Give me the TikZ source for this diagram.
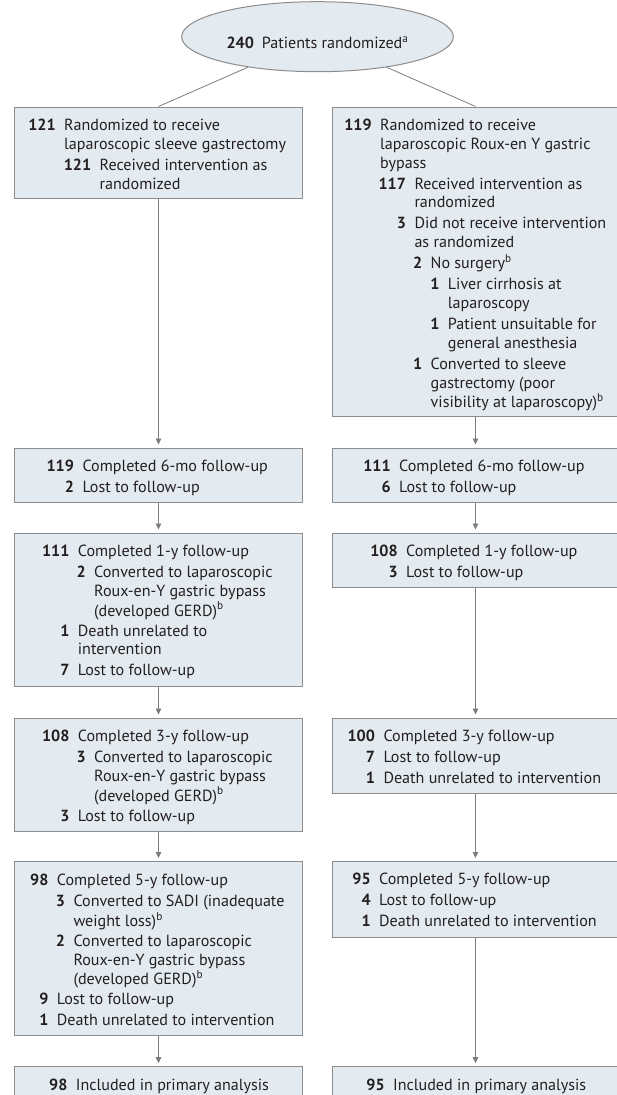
\documentclass[tikz,border=0pt]{standalone}
\usepackage{fontspec}
\setmainfont{PT Sans}
\usetikzlibrary{shapes.geometric,arrows.meta}
\definecolor{boxfill}{RGB}{228,235,240}
\definecolor{boxline}{RGB}{140,140,140}
\definecolor{conn}{RGB}{125,125,125}
\definecolor{ink}{RGB}{35,31,32}
\newcommand\fs{\fontsize{16.1}{18.8}\selectfont}
\newcommand\itm[2]{\hbox{\llap{\bfseries #1\hspace{8.5pt}}\begin{tabular}[t]{@{}l@{}}#2\end{tabular}}}
\newcommand\sps[1]{\textsuperscript{#1}}
\tikzset{
  box/.style={draw=boxline, fill=boxfill, line width=1pt, inner sep=0pt},
  lbox/.style={box, minimum width=288.4pt},
  rbox/.style={box, minimum width=287pt},
  txt/.style={anchor=base west, inner sep=0pt},
  arr/.style={draw=conn, line width=0.9pt, -{Triangle[length=6pt,width=5.5pt]}, shorten >=3pt},
  lnk/.style={draw=conn, line width=0.8pt},
}
\begin{document}
\begin{tikzpicture}[x=1pt, y=-1pt, font=\fs, text=ink]
\useasboundingbox (0,0) rectangle (617,1095);
\clip (0,0) rectangle (617,1095);

% top ellipse
\node[ellipse, draw=boxline, fill=boxfill, line width=1pt, minimum width=271.7pt, minimum height=70pt, inner sep=0pt] (E) at (317.5,36.7) {};
\node[anchor=base, inner sep=0pt] (Et) at (317.5,48.3) {\textbf{240}\hspace{8pt}Patients randomized\sps{a}};

% boxes
\node[lbox, minimum height=91pt]    (L1) at (158.5,152.5) {};
\node[rbox, minimum height=309.5pt] (R1) at (475.5,261.75) {};
\node[lbox, minimum height=54pt]    (L2) at (158.5,475) {};
\node[rbox, minimum height=54pt]    (R2) at (475.5,475) {};
\node[lbox, minimum height=153pt]   (L3) at (158.5,609.5) {};
\node[rbox, minimum height=54.5pt]  (R3) at (475.5,560.25) {};
\node[lbox, minimum height=113pt]   (L4) at (158.5,774.5) {};
\node[rbox, minimum height=75pt]    (R4) at (475.5,755.5) {};
\node[lbox, minimum height=173.5pt] (L5) at (158.5,948.25) {};
\node[rbox, minimum height=76pt]    (R5) at (475.5,899.5) {};
\node[lbox, minimum height=48.3pt]  (L6) at (158.5,1090.85) {};
\node[rbox, minimum height=48.3pt]  (R6) at (475.5,1090.85) {};

% connectors
\draw[lnk] (E) -- (L1.north);
\draw[lnk] (E) -- (R1.north);
\draw[arr] (L1.south) -- (L2.north);
\draw[arr] (L2.south) -- (L3.north);
\draw[arr] (L3.south) -- (L4.north);
\draw[arr] (L4.south) -- (L5.north);
\draw[arr] (L5.south) -- (L6.north);
\draw[arr] (R1.south) -- (R2.north);
\draw[arr] (R2.south) -- (R3.north);
\draw[arr] (R3.south) -- (R4.north);
\draw[arr] (R4.south) -- (R5.north);
\draw[arr] (R5.south) -- (R6.north);

% left column texts
\node[txt] (l1a) at (64,130.5) {\itm{121}{Randomized to receive\\laparoscopic sleeve gastrectomy}};
\node[txt] (l1b) at (99.5,170.3) {\itm{121}{Received intervention as\\randomized}};

\node[txt] (l2a) at (82.3,471.5) {\itm{119}{Completed 6-mo follow-up}};
\node[txt] (l2b) at (82.3,492.5) {\itm{2}{Lost to follow-up}};

\node[txt] (l3a) at (77.7,556.5) {\itm{111}{Completed 1-y follow-up}};
\node[txt] (l3b) at (94,577.5) {\itm{2}{Converted to laparoscopic\\Roux-en-Y gastric bypass\\(developed GERD)\sps{b}}};
\node[txt] (l3c) at (77.7,636.1) {\itm{1}{Death unrelated to\\intervention}};
\node[txt] (l3d) at (77.7,675.9) {\itm{7}{Lost to follow-up}};

\node[txt] (l4a) at (77.7,741.5) {\itm{108}{Completed 3-y follow-up}};
\node[txt] (l4b) at (94,762.5) {\itm{3}{Converted to laparoscopic\\Roux-en-Y gastric bypass\\(developed GERD)\sps{b}}};
\node[txt] (l4c) at (77.7,821.1) {\itm{3}{Lost to follow-up}};

\node[txt] (l5a) at (56.7,885.5) {\itm{98}{Completed 5-y follow-up}};
\node[txt] (l5b) at (73.3,906.5) {\itm{3}{Converted to SADI (inadequate\\weight loss)\sps{b}}};
\node[txt] (l5c) at (73.3,946.3) {\itm{2}{Converted to laparoscopic\\Roux-en-Y gastric bypass\\(developed GERD)\sps{b}}};
\node[txt] (l5d) at (56.7,1004.9) {\itm{9}{Lost to follow-up}};
\node[txt] (l5e) at (56.7,1025.9) {\itm{1}{Death unrelated to intervention}};

\node[txt] (l6a) at (75.7,1090.2) {\itm{98}{Included in primary analysis}};

% right column texts
\node[txt] (r1a) at (380,130.5) {\itm{119}{Randomized to receive\\laparoscopic Roux-en Y gastric\\bypass}};
\node[txt] (r1b) at (414.3,189.1) {\itm{117}{Received intervention as\\randomized}};
\node[txt] (r1c) at (414.3,228.9) {\itm{3}{Did not receive intervention\\as randomized}};
\node[txt] (r1d) at (430.5,268.7) {\itm{2}{No surgery\sps{b}}};
\node[txt] (r1e) at (447.7,289.7) {\itm{1}{Liver cirrhosis at\\laparoscopy}};
\node[txt] (r1f) at (447.7,329.5) {\itm{1}{Patient unsuitable for\\general anesthesia}};
\node[txt] (r1g) at (430.5,369.3) {\itm{1}{Converted to sleeve\\gastrectomy (poor\\visibility at laparoscopy)\sps{b}}};

\node[txt] (r2a) at (399,471.5) {\itm{111}{Completed 6-mo follow-up}};
\node[txt] (r2b) at (399,492.5) {\itm{6}{Lost to follow-up}};

\node[txt] (r3a) at (406,556.5) {\itm{108}{Completed 1-y follow-up}};
\node[txt] (r3b) at (406,577.5) {\itm{3}{Lost to follow-up}};

\node[txt] (r4a) at (383.3,741.5) {\itm{100}{Completed 3-y follow-up}};
\node[txt] (r4b) at (383.3,762.5) {\itm{7}{Lost to follow-up}};
\node[txt] (r4c) at (383.3,783.5) {\itm{1}{Death unrelated to intervention}};

\node[txt] (r5a) at (379,884.5) {\itm{95}{Completed 5-y follow-up}};
\node[txt] (r5b) at (379,905.5) {\itm{4}{Lost to follow-up}};
\node[txt] (r5c) at (379,926.5) {\itm{1}{Death unrelated to intervention}};

\node[txt] (r6a) at (393,1090.2) {\itm{95}{Included in primary analysis}};
\end{tikzpicture}
\end{document}
